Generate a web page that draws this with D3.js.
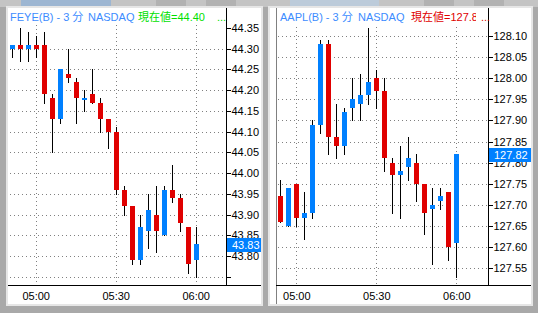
<!DOCTYPE html>
<html><head><meta charset="utf-8">
<script src="https://cdn.jsdelivr.net/npm/d3@7"></script>
<style>
body{margin:0;background:#a9a9a9;overflow:hidden}
svg{display:block}
text{font-family:"Liberation Sans",Arial,"Noto Sans CJK JP",sans-serif}
</style>
</head><body>
<svg id="c" width="538" height="313"></svg>
<script>
// ---------- data ----------
const feyeTimes = ["04:51","04:54","04:57","05:00","05:03","05:06","05:09","05:12","05:15","05:18","05:21","05:24",
                   "05:27","05:30","05:33","05:36","05:39","05:42","05:45","05:48","05:51","05:54","05:57","06:00"];
const feyeOpen  = [44.30,44.31,44.30,44.31,44.31,44.18,44.13,44.24,44.22,44.18,44.19,44.17,
                   44.13,44.10,43.96,43.92,43.79,43.86,43.90,43.85,43.96,43.94,43.87,43.79];
const feyeHigh  = [44.31,44.35,44.34,44.33,44.34,44.19,44.25,44.30,44.23,44.20,44.25,44.18,
                   44.13,44.11,43.97,43.92,43.90,43.95,43.97,43.97,44.02,43.95,43.87,43.87];
const feyeLow   = [44.28,44.27,44.27,44.28,44.17,44.05,44.12,44.22,44.12,44.15,44.17,44.10,
                   44.06,43.95,43.90,43.78,43.78,43.82,43.81,43.85,43.93,43.86,43.76,43.75];
const feyeClose = [44.31,44.30,44.31,44.30,44.19,44.13,44.25,44.23,44.18,44.18,44.17,44.13,
                   44.10,43.96,43.92,43.79,43.87,43.91,43.86,43.96,43.94,43.88,43.78,43.83];

const aaplTimes = ["04:54","04:57","05:00","05:03","05:06","05:09","05:12","05:15","05:18","05:21","05:24","05:27",
                   "05:30","05:33","05:36","05:39","05:42","05:45","05:48","05:51","05:54","05:57","06:00"];
const aaplOpen  = [127.72,127.65,127.75,127.67,127.68,127.89,128.08,127.86,127.84,127.93,127.94,127.96,
                   128.00,127.97,127.80,127.77,127.79,127.80,127.75,127.69,127.71,127.73,127.61];
const aaplHigh  = [127.76,127.74,127.75,127.73,127.90,128.09,128.09,127.94,127.93,128.00,128.01,128.12,
                   128.02,128.00,127.81,127.84,127.86,127.82,127.75,127.74,127.74,127.73,127.82];
const aaplLow   = [127.66,127.65,127.65,127.62,127.67,127.87,127.82,127.81,127.82,127.90,127.90,127.94,
                   127.93,127.78,127.68,127.67,127.76,127.71,127.63,127.56,127.69,127.57,127.53];
const aaplClose = [127.66,127.74,127.67,127.68,127.89,128.08,127.86,127.84,127.92,127.95,127.96,127.99,
                   127.97,127.81,127.77,127.78,127.81,127.75,127.68,127.70,127.72,127.60,127.82];

const timeLabels = ["05:00","05:30","06:00"];
const feyeTicks  = [44.35,44.30,44.25,44.20,44.15,44.10,44.05,44.00,43.95,43.90,43.85,43.80,43.75];
const feyeLabels = [44.35,44.30,44.25,44.20,44.15,44.10,44.05,44.00,43.95,43.90,43.85,43.80];
const feyeGrid   = [44.30,44.25,44.20,44.15,44.10,44.05,44.00,43.95,43.90,43.85,43.80,43.75];
const aaplTicks  = [128.10,128.05,128.00,127.95,127.90,127.85,127.80,127.75,127.70,127.65,127.60,127.55];
const aaplLabels = aaplTicks;
const aaplGrid   = aaplTicks;
const feyeLast = 43.83, aaplLast = 127.82;
const feyeTitle = ["FEYE(B) - 3 分", "NASDAQ", "現在値=44.40"];
const aaplTitle = ["AAPL(B) - 3 分", "NASDAQ", "現在値=127.8"];   // truncated in the original header

// ---------- drawing ----------
const svg = d3.select("#c");
const parse = d3.timeParse("%H:%M");
const UP = "#0080ff", DOWN = "#e00000";

// window chrome
svg.append("rect").attr("width",538).attr("height",313).attr("fill","#a9a9a9");
svg.append("rect").attr("x",0).attr("y",0).attr("width",538).attr("height",7).attr("fill","#c4c4c4");

function panel(cfg){
  const g = svg.append("g");
  // tab strip
  g.append("rect").attr("x",cfg.tab[0]).attr("y",0).attr("width",cfg.tab[1]-cfg.tab[0]).attr("height",6).attr("fill",cfg.tabColor);
  cfg.tabGrey.forEach(r=>g.append("rect").attr("x",r[0]).attr("y",0).attr("width",r[1]-r[0]).attr("height",6).attr("fill","#b2b2b2"));
  // panel
  g.append("rect").attr("x",cfg.left-2).attr("y",6).attr("width",cfg.right-cfg.left+4).attr("height",300).attr("fill","#e6e6e6");
  g.append("rect").attr("x",cfg.left).attr("y",8).attr("width",cfg.right-cfg.left).attr("height",296).attr("fill","#fff");
  if(cfg.plotLeft > cfg.left+1)
    g.append("line").attr("x1",cfg.plotLeft+0.5).attr("x2",cfg.plotLeft+0.5).attr("y1",8).attr("y2",304).attr("stroke","#808080");

  const x = d3.scaleTime().domain([parse("05:00"),parse("06:00")]).range(cfg.xr);
  const y = d3.scaleLinear().domain(cfg.yd).range(cfg.yr);

  // grid
  const grid = g.append("g").attr("stroke","#808080").attr("stroke-dasharray","1,3").attr("shape-rendering","crispEdges");
  cfg.grid.forEach(v=>{
    const yy = Math.round(y(v))+0.5;
    grid.append("line").attr("x1",cfg.plotLeft+2).attr("x2",cfg.axisX).attr("y1",yy).attr("y2",yy);
  });
  timeLabels.forEach(t=>{
    const xx = Math.round(x(parse(t)))+0.5;
    grid.append("line").attr("x1",xx).attr("x2",xx).attr("y1",cfg.gridTop).attr("y2",285);
  });

  // candles
  const data = cfg.times.map((t,i)=>({t:parse(t),o:cfg.o[i],h:cfg.h[i],l:cfg.l[i],c:cfg.c[i]}));
  const cg = g.append("g").attr("shape-rendering","crispEdges");
  data.forEach(d=>{
    const cx = Math.round(x(d.t));
    cg.append("line").attr("x1",cx+0.5).attr("x2",cx+0.5)
      .attr("y1",Math.round(y(d.h))).attr("y2",Math.round(y(d.l))+1).attr("stroke","#000");
    const yt = Math.round(y(Math.max(d.o,d.c))), yb = Math.round(y(Math.min(d.o,d.c)));
    cg.append("rect").attr("x",cx-2).attr("width",5)
      .attr("y",yt).attr("height",Math.max(2,yb-yt))
      .attr("fill", d.c>=d.o ? UP : DOWN);
  });

  // axes lines
  g.append("line").attr("x1",cfg.axisX+0.5).attr("x2",cfg.axisX+0.5).attr("y1",8).attr("y2",285).attr("stroke","#000");
  g.append("line").attr("x1",cfg.plotLeft).attr("x2",cfg.right).attr("y1",285.5).attr("y2",285.5).attr("stroke","#000");

  // y axis
  const ya = g.append("g").attr("transform",`translate(${cfg.axisX+0.5},0)`)
    .call(d3.axisRight(y).tickValues(cfg.ticks).tickSize(4).tickPadding(1)
      .tickFormat(v => cfg.labels.some(l=>Math.abs(l-v)<1e-6) ? d3.format(".2f")(v) : ""));
  ya.select(".domain").remove();
  ya.selectAll("line").attr("stroke","#000").attr("shape-rendering","crispEdges");
  ya.selectAll("text").attr("font-size",11).attr("fill","#000");

  // x axis
  const xa = g.append("g").attr("transform","translate(0,285)")
    .call(d3.axisBottom(x).tickValues(timeLabels.map(parse)).tickSize(0).tickPadding(7)
      .tickFormat(d3.timeFormat("%H:%M")));
  xa.select(".domain").remove();
  xa.selectAll("text").attr("font-size",11).attr("fill","#000");

  // last price box
  const ly = y(cfg.last);
  g.append("rect").attr("x",cfg.axisX+1).attr("y",Math.round(ly)-6).attr("width",cfg.right-cfg.axisX-1).attr("height",14).attr("fill",UP);
  g.append("text").attr("x",cfg.axisX+6).attr("y",Math.round(ly)+5).attr("font-size",11).attr("fill","#fff")
    .text(d3.format(".2f")(cfg.last));

  // title (one text element; the current-value part is clipped like the original, then "...")
  const clipId = "clip"+cfg.id;
  const cp = g.append("clipPath").attr("id",clipId);
  cp.append("rect").attr("x",cfg.left).attr("y",8).attr("width",cfg.titleClip-cfg.left).attr("height",20);
  cp.append("rect").attr("x",cfg.titleX[3]-1).attr("y",8).attr("width",12).attr("height",20);
  const t = g.append("text").attr("y",20.5).attr("font-size",11).attr("clip-path",`url(#${clipId})`);
  t.append("tspan").attr("x",cfg.titleX[0]).attr("fill","#3c8cff").text(cfg.title[0]);
  t.append("tspan").attr("x",cfg.titleX[1]).attr("fill","#3c8cff").text(cfg.title[1]);
  t.append("tspan").attr("x",cfg.titleX[2]).attr("fill",cfg.titleColor).text(cfg.title[2]);
  t.append("tspan").attr("x",cfg.titleX[3]).attr("fill",cfg.titleColor).text("...");
}

panel({id:"L", left:8, right:261, plotLeft:8, axisX:226, gridTop:25,
  tab:[21,111], tabColor:"#9db6d2", tabGrey:[[156,186],[206,236]],
  xr:[35.7,195.7], yd:[43.75,44.35], yr:[276.7,28],
  times:feyeTimes, o:feyeOpen, h:feyeHigh, l:feyeLow, c:feyeClose,
  ticks:feyeTicks, labels:feyeLabels, grid:feyeGrid, last:feyeLast,
  title:feyeTitle, titleX:[10,88,138,217], titleColor:"#00e000", titleClip:212});

panel({id:"R", left:270, right:531, plotLeft:276, axisX:488, gridTop:27,
  tab:[290,379], tabColor:"#bccbda", tabGrey:[[424,454],[474,504]],
  xr:[296.3,456.3], yd:[127.55,128.10], yr:[268.2,36],
  times:aaplTimes, o:aaplOpen, h:aaplHigh, l:aaplLow, c:aaplClose,
  ticks:aaplTicks, labels:aaplLabels, grid:aaplGrid, last:aaplLast,
  title:aaplTitle, titleX:[280,358,411,481], titleColor:"#e00000", titleClip:476});
</script>
</body></html>
